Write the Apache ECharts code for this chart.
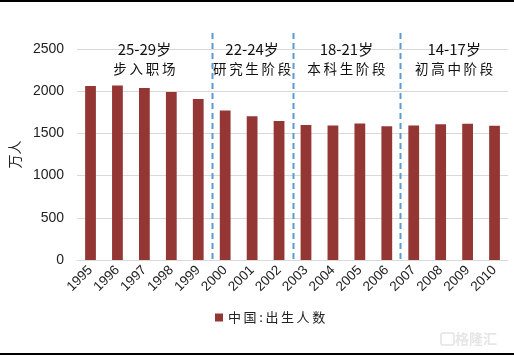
<!DOCTYPE html>
<html><head><meta charset="utf-8">
<script src="https://cdn.jsdelivr.net/npm/echarts@6/dist/echarts.min.js"></script>
<style>html,body{margin:0;padding:0;background:#fff}#c{width:514px;height:358px}</style>
</head><body><div id="c"></div>
<script>
var years = ['1995','1996','1997','1998','1999','2000','2001','2002','2003','2004','2005','2006','2007','2008','2009','2010'];
var births = [2063,2067,2038,1991,1909,1771,1702,1647,1599,1593,1617,1585,1595,1608,1615,1592];
var yTicks = [0,500,1000,1500,2000,2500];
var dividers = [4.5, 7.5, 11.5];
var groupCenters = [2, 6, 9.5, 13.5];
var groupAges = ['25-29岁','22-24岁','18-21岁','14-17岁'];
var groupStages = ['步入职场','研究生阶段','本科生阶段','初高中阶段'];

var chart = echarts.init(document.getElementById('c'));
var numFont = 'Liberation Sans, Arial, sans-serif';
var cjkFont = 'Noto Sans CJK SC, sans-serif';
chart.setOption({
  animation:false,
  grid:{left:67,right:6,top:49,bottom:98},
  legend:{data:['中国:出生人数'],left:210,top:306,itemWidth:8,itemHeight:8,itemGap:5,
    formatter:function(n){return n.split('').join('\u2009');},
    textStyle:{fontFamily:cjkFont,fontSize:13,color:'#222'}, icon:'rect'},
  xAxis:[{type:'category',data:years,
    axisLine:{lineStyle:{color:'#d9d9d9'}},axisTick:{show:false},
    axisLabel:{rotate:45,interval:0,fontFamily:numFont,fontSize:13.5,color:'#222',margin:8}},
   {type:'value',min:-0.5,max:15.5,show:false}],
  yAxis:{type:'value',min:0,max:2500,interval:500,
    name:'万人',nameLocation:'middle',nameGap:41,nameRotate:90,
    nameTextStyle:{fontFamily:cjkFont,fontSize:14,color:'#222'},
    axisLine:{show:false},axisTick:{show:false},
    axisLabel:{fontFamily:numFont,fontSize:14,color:'#222',margin:13,
      formatter:function(v){return yTicks.indexOf(v)>=0?String(v):'';}},
    splitLine:{lineStyle:{color:'#d9d9d9'}}},
  series:[{name:'中国:出生人数',type:'bar',data:births,barWidth:'40%',
    itemStyle:{color:'#943634'}}]
});

function draw(){
  var els = [];
  var yTop = chart.convertToPixel({yAxisIndex:0}, 2500);
  var y0 = chart.convertToPixel({yAxisIndex:0}, 0);
  dividers.forEach(function(d){
    var x = Math.round(chart.convertToPixel({xAxisIndex:1}, d))+0.5;
    els.push({type:'line',shape:{x1:x,y1:yTop-16,x2:x,y2:y0+3},
      style:{stroke:'#5b9bd5',lineWidth:2,lineDash:[6,4]},z:10});
  });
  groupCenters.forEach(function(c,i){
    var x = chart.convertToPixel({xAxisIndex:1}, c);
    els.push({type:'text',x:x,y:yTop,style:{text:groupAges[i],align:'center',verticalAlign:'middle',
      font:'15px '+cjkFont,fill:'#111'},z:11});
    els.push({type:'text',x:x,y:yTop+20,style:{text:groupStages[i].split('').join('\u2009'),align:'center',verticalAlign:'middle',
      font:'13.5px '+cjkFont,fill:'#111'},z:11});
  });
  els.push({type:'line',shape:{x1:0,y1:1,x2:514,y2:1},style:{stroke:'#000',lineWidth:2}});
  els.push({type:'line',shape:{x1:0,y1:354,x2:514,y2:354},style:{stroke:'#000',lineWidth:2}});
  els.push({type:'text',x:476,y:339,style:{text:'格隆汇',align:'center',verticalAlign:'middle',
    font:'bold 14px '+cjkFont,fill:'#e6e6e6'}});
  els.push({type:'rect',shape:{x:441,y:333,width:13,height:12,r:2},style:{fill:'none',stroke:'#e3e3e3',lineWidth:1.5}});
  chart.setOption({graphic:{elements:els}});
}
draw();
</script></body></html>
